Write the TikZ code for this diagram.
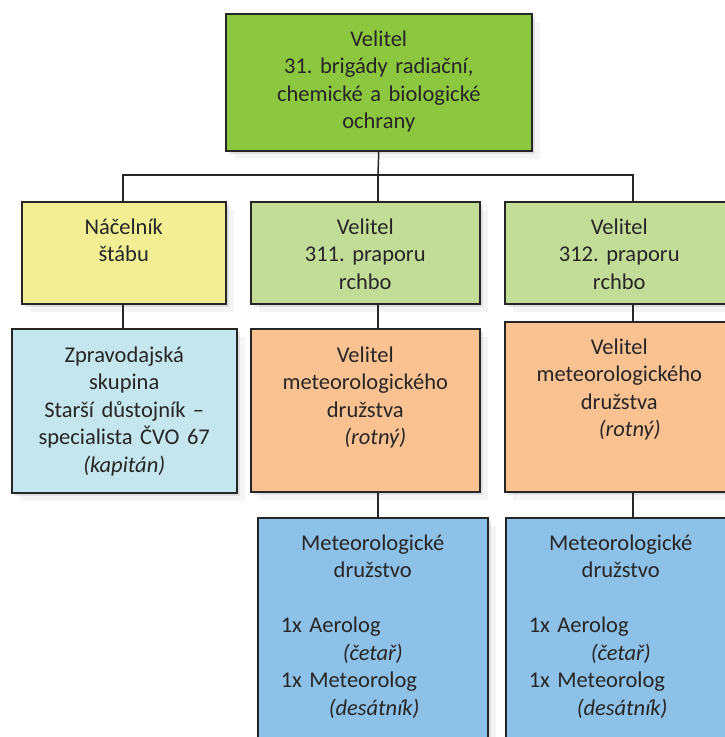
\documentclass[tikz,border=0pt]{standalone}
\usepackage{fontspec}
\setmainfont{Carlito}
\usetikzlibrary{positioning,shadows}
\definecolor{brigadegreen}{HTML}{8DC63F}
\definecolor{chiefyellow}{HTML}{F1EE93}
\definecolor{battgreen}{HTML}{C3DD98}
\definecolor{infoblue}{HTML}{C4E6EC}
\definecolor{squadorange}{HTML}{FAC291}
\definecolor{squadblue}{HTML}{8EC1E8}
\definecolor{inkgray}{HTML}{262626}
\frenchspacing

\begin{document}
\begin{tikzpicture}[x=1pt,y=-1pt,
    unit/.style={draw=inkgray, line width=1.5pt, rectangle, anchor=north west, inner sep=0pt,
      drop shadow={shadow xshift=3pt,shadow yshift=-3pt,opacity=.2},
      drop shadow={shadow xshift=8pt,shadow yshift=-8pt,opacity=.08}},
    txt/.style={align=center, inner sep=0pt, text=inkgray, font=\fontsize{22.5}{27.5}\selectfont},
    link/.style={line width=1.5pt, draw=inkgray}]

        \useasboundingbox (0,0) rectangle (725,737);
        \clip (0,0) rectangle (725,737);

        % Boxes
        \node (brigade) [unit, fill=brigadegreen, minimum width=306pt, minimum height=137pt] at (225,13) {};
        \node (chief) [unit, fill=chiefyellow, minimum width=204pt, minimum height=102pt] at (21,201) {};
        \node (bat311) [unit, fill=battgreen, minimum width=229pt, minimum height=102pt] at (250,201) {};
        \node (bat312) [unit, fill=battgreen, minimum width=229pt, minimum height=102pt] at (504,201) {};
        \node (intel) [unit, fill=infoblue, minimum width=225pt, minimum height=164pt] at (11,328) {};
        \node (squad311) [unit, fill=squadorange, minimum width=229pt, minimum height=163pt] at (250,328) {};
        \node (squad312) [unit, fill=squadorange, minimum width=229pt, minimum height=170pt] at (504,321) {};
        \node (met311) [unit, fill=squadblue, minimum width=230pt, minimum height=260pt] at (257,517) {};
        \node (met312) [unit, fill=squadblue, minimum width=230pt, minimum height=260pt] at (505,517) {};

        % Texts (text width keeps the base anchor on the first line)
        \node (brigadetxt) [txt, text width=300pt, below=33pt of brigade.north, anchor=base] {Velitel\\31. brigády radiační,\\chemické a biologické\\ochrany};
        \node (chieftxt) [txt, text width=200pt, below=33pt of chief.north, anchor=base] {Náčelník\\štábu};
        \node (bat311txt) [txt, text width=225pt, below=33pt of bat311.north, anchor=base] {Velitel\\311. praporu\\rchbo};
        \node (bat312txt) [txt, text width=225pt, below=33pt of bat312.north, anchor=base] {Velitel\\312. praporu\\rchbo};
        \node (inteltxt) [txt, text width=221pt, below=34pt of intel.north, anchor=base] {Zpravodajská\\skupina\\Starší důstojník –\\specialista ČVO 67\\\textit{(kapitán)}};
        \node (squad311txt) [txt, text width=225pt, below=34pt of squad311.north, anchor=base] {Velitel\\meteorologického\\družstva\\\hspace*{20pt}\textit{(rotný)}};
        \node (squad312txt) [txt, text width=225pt, below=33pt of squad312.north, anchor=base] {Velitel\\meteorologického\\družstva\\\hspace*{21pt}\textit{(rotný)}};
        \foreach \m in {met311, met312} {
            \node (\m txt) [txt, align=left, text width=230pt, below=33pt of \m.north, anchor=base]
              {\centering Meteorologické\\družstvo\par\vspace{27.5pt}\raggedright
               \hspace*{23pt}1x Aerolog\\\hspace*{85pt}\textit{(četař)}\\
               \hspace*{23pt}1x Meteorolog\\\hspace*{71pt}\textit{(desátník)}};
        }

        % Lines
        \coordinate (col1) at (123,175);
        \coordinate (col2) at (378,175);
        \coordinate (col3) at (633,175);
        \draw[link] (brigade.south) -- (col2);
        \draw[link] (col1 |- chief.north) -- (col1) -- (col3) -- (col3 |- bat312.north);
        \draw[link] (col2) -- (col2 |- bat311.north);
        \foreach \c/\i/\j in {col1/chief/intel, col2/bat311/squad311, col3/bat312/squad312, col2/squad311/met311, col3/squad312/met312} {
            \draw[link] (\c |- \i.south) -- (\c |- \j.north);
        }

    \end{tikzpicture}
\end{document}
